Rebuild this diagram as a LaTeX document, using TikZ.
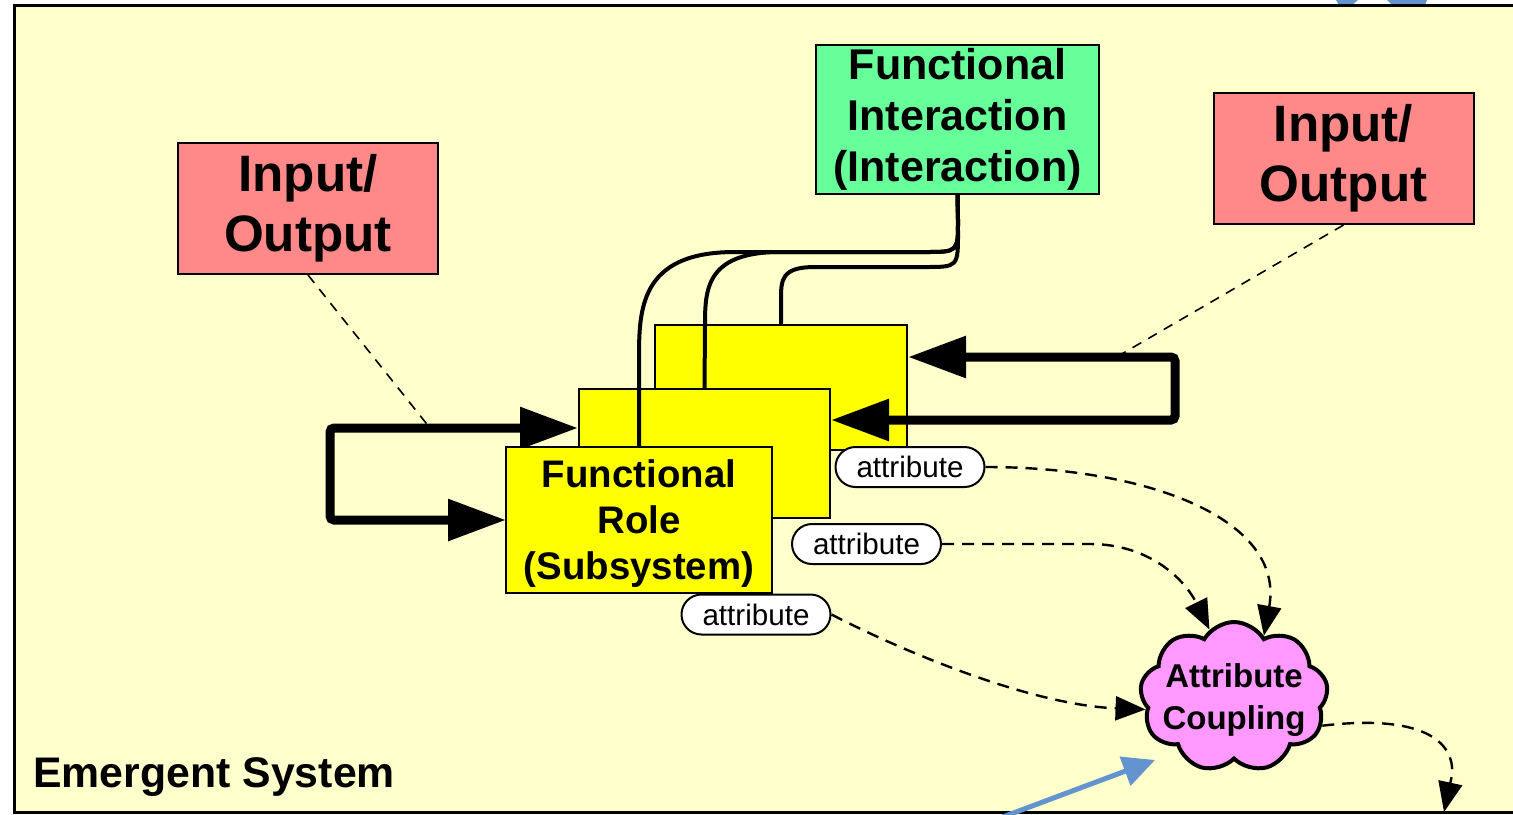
\documentclass[tikz,border=0pt]{standalone}
\usepackage{fontspec}
\setmainfont{Liberation Sans}
\usetikzlibrary{arrows.meta,shapes.symbols}
\definecolor{bgc}{HTML}{FFFFCC}
\definecolor{ioc}{HTML}{FF8888}
\definecolor{fic}{HTML}{66FF99}
\definecolor{yc}{HTML}{FFFF00}
\definecolor{cloudc}{HTML}{FF99FF}
\definecolor{bluec}{HTML}{6394D0}
\tikzset{
  iobox/.style={draw, line width=1pt, fill=ioc, inner sep=0pt, align=center,
    minimum width=130pt, minimum height=65.5pt, font=\bfseries\fontsize{25.6}{30}\selectfont},
  fibox/.style={draw, line width=1pt, fill=fic, inner sep=0pt, align=center,
    minimum width=141.5pt, minimum height=74.5pt, font=\bfseries\fontsize{21.5}{25.5}\selectfont},
  ybox/.style={draw, line width=1pt, fill=yc, inner sep=0pt, align=center},
  attr/.style={draw, line width=1pt, fill=white, rounded corners=10pt, inner sep=0pt,
    minimum width=74.5pt, minimum height=20pt, font=\fontsize{14.8}{16}\selectfont},
  cloudn/.style={cloud, cloud puffs=9, cloud puff arc=120, aspect=1.24, draw, line width=2pt,
    fill=cloudc, inner sep=0pt, minimum width=94pt, minimum height=75pt},
  thickloop/.style={line width=4.5pt, rounded corners=2pt,
    {Triangle[length=29pt,width=20pt]}-{Triangle[length=29pt,width=20pt]}},
  iodash/.style={line width=0.8pt, dash pattern=on 5pt off 4pt},
  adash/.style={line width=1.2pt, dash pattern=on 6pt off 4pt, -{Triangle[length=15pt,width=12pt]}},
  link/.style={line width=2pt},
}
\begin{document}
\begin{tikzpicture}[x=0.5pt,y=-0.5pt]
\useasboundingbox (0,0) rectangle (1513,814);
% frame
\fill[white] (0,0) rectangle (1513,814);
\fill[bluec] (1336,0) -- (1358,0) -- (1352,5) -- (1339,5) -- cycle;
\fill[bluec] (1387,0) -- (1427,0) -- (1425,5) -- (1392,5) -- cycle;
\draw[line width=1.5pt, fill=bgc] (14,5) rectangle (1540,812);

% input/output nodes
\node[iobox] (io1) at (308,208.5) {Input/\\Output};
\node[iobox] (io2) at (1343.5,158.5) {Input/\\Output};
\node[fibox] (fi) at (957.5,119.5) {Functional\\Interaction\\(Interaction)};

% coordinates
\coordinate (l1) at (330,428);
\coordinate (l2) at (330,520);
\coordinate (r1) at (1175,357);
\coordinate (r2) at (1175,420);
\coordinate (d1) at (430,428);
\coordinate (d2) at (1120,355);

% dashed lines from I/O
\draw[iodash] (io1.south) -- (d1);
\draw[iodash] (io2.south) -- (d2);

% yellow boxes
\node[ybox, minimum width=126pt, minimum height=62.5pt] (back) at (781,387.5) {};
\node[ybox, minimum width=125.5pt, minimum height=64.5pt] (middle) at (704.5,453.5) {};
\draw[thickloop] (back.east |- r1) -- (r1) -- (r2) -- (middle.east |- r2);
\coordinate (fw) at (506,520);
\draw[thickloop] (middle.west |- l1) -- (l1) -- (l2) -- (fw);
\node[ybox, minimum width=133pt, minimum height=73pt] (front) at (639,520) {};
\node[inner sep=0pt, align=center, font=\bfseries\fontsize{19.2}{23}\selectfont]
  (frontt) at (639,524) {Functional\\Role\\(Subsystem)};

% interaction links
\draw[link] (fi.south) -- (958,220) .. controls (958,252) .. (925,252) -- (735,252)
  .. controls (639,252) and (639,310) .. (639,360) -- (front.north);
\draw[link] (fi.south) -- (958,220) .. controls (958,252) .. (925,252) -- (775,252)
  .. controls (706,254) and (705,290) .. (705,325) -- (middle.north);
\draw[link] (fi.south) -- (958,232) .. controls (958,267) .. (925,267) -- (815,267)
  .. controls (781,267) and (781,280) .. (781,300) -- (back.north);

% attributes
\node[attr] (a1) at (910,467) {attribute};
\node[attr] (a2) at (866.5,544) {attribute};
\node[attr] (a3) at (756,614.5) {attribute};

% cloud
\node[cloudn] (cl) at (1234,697) {};
\node[inner sep=0pt, align=center, font=\bfseries\fontsize{16.5}{21}\selectfont]
  (clt) at (1234,700) {Attribute\\Coupling};

\coordinate (bot) at (1444,812);
\draw[adash] (a1.east) .. controls (1150,467) and (1285,520) .. (cl.64);
\draw[adash] (a2.east) -- (1090,544) .. controls (1150,544) and (1185,580) .. (cl.110);
\draw[adash] (a3.east) .. controls (900,650) and (1030,705) .. (cl.188);
\draw[adash] (cl.-18) .. controls (1420,714) and (1455,740) .. (1452,775) -- (bot);

% blue arrow
\coordinate (bs) at (1000,818);
\coordinate (be) at (1155,760);
\draw[bluec, line width=2.5pt, -{Triangle[length=16pt,width=15pt]}] (bs) -- (be);

% label
\node[anchor=base west, inner sep=0pt, font=\bfseries\fontsize{21.4}{25}\selectfont] (es) at (33,787) {Emergent System};
\end{tikzpicture}
\end{document}
